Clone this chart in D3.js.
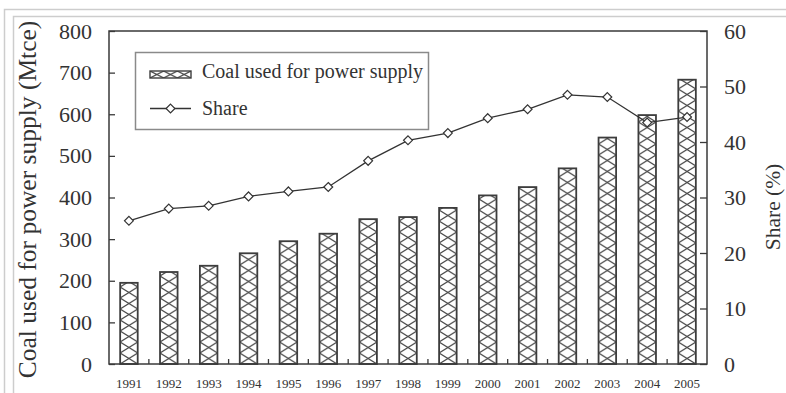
<!DOCTYPE html>
<html>
<head>
<meta charset="utf-8">
<script src="https://cdn.jsdelivr.net/npm/d3@7"></script>
<style>
  html, body { margin: 0; padding: 0; background: #fff; }
  svg { display: block; }
  svg text { font-family: "Liberation Serif", "DejaVu Serif", serif !important; fill: #333; }
</style>
</head>
<body>
<svg id="chart" width="786" height="393"></svg>
<script>
// Coal consumed by power generation in China and its share of total coal use
const years = ["1991","1992","1993","1994","1995","1996","1997","1998",
               "1999","2000","2001","2002","2003","2004","2005"];
const coalMtce = [195, 221, 236, 266, 295, 313, 348, 353, 375, 405, 425, 470, 544, 598, 683];
const sharePct = [25.8, 28.0, 28.5, 30.2, 31.1, 31.9, 36.6, 40.3, 41.6, 44.3, 45.9, 48.5, 48.1, 43.5, 44.5];
const leftTicks = [0, 100, 200, 300, 400, 500, 600, 700, 800];
const rightTicks = [0, 10, 20, 30, 40, 50, 60];
const legendLabels = ["Coal used for power supply", "Share"];
const leftTitle = "Coal used for power supply (Mtce)";
const rightTitle = "Share (%)";

const svg = d3.select("#chart");
const plot = { left: 109, right: 707, top: 31, bottom: 364 };
const ink = "#3a3a3a";
const serif = "'Liberation Serif', 'DejaVu Serif', serif";

// light double frame around the figure
const frame = svg.append("g").attr("fill", "none").attr("stroke", "#cdcdcd").attr("stroke-width", 1.5);
frame.append("path").attr("d", "M4.5,393V9.5H786");
frame.append("path").attr("d", "M13.5,393V16.5H786");

const x = d3.scaleBand().domain(years).range([plot.left, plot.right])
  .paddingInner(0.56).paddingOuter(0.28);
const yL = d3.scaleLinear().domain([0, 800]).range([plot.bottom, plot.top]);
const yR = d3.scaleLinear().domain([0, 60]).range([plot.bottom, plot.top]);

const bw = x.bandwidth();
const cellH = 11;

// cross-hatch patterns: one per bar width, one smaller for the legend key
const defs = svg.append("defs");
function hatch(id, w, h) {
  const p = defs.append("pattern").attr("id", id)
    .attr("patternUnits", "userSpaceOnUse").attr("width", w).attr("height", h);
  p.append("rect").attr("width", w).attr("height", h).attr("fill", "#fff");
  p.append("path").attr("d", `M0,0L${w},${h}M${w},0L0,${h}`)
    .attr("stroke", "#4a4a4a").attr("stroke-width", 1.2).attr("fill", "none");
}
hatch("xhatch", bw, cellH);
hatch("xhatchKey", 41 / 3, 7);

// bars: each bar group is anchored at its own lower-left corner so the hatch lines up
const bars = svg.append("g");
bars.selectAll("g").data(years).join("g")
  .attr("transform", d => `translate(${x(d)},${plot.bottom})`)
  .append("rect")
  .attr("x", 0)
  .attr("y", (d, i) => yL(coalMtce[i]) - plot.bottom)
  .attr("width", bw)
  .attr("height", (d, i) => plot.bottom - yL(coalMtce[i]))
  .attr("fill", "url(#xhatch)")
  .attr("stroke", "#3d3d3d").attr("stroke-width", 1.8);

// plot frame
svg.append("rect")
  .attr("x", plot.left).attr("y", plot.top)
  .attr("width", plot.right - plot.left).attr("height", plot.bottom - plot.top)
  .attr("fill", "none").attr("stroke", ink).attr("stroke-width", 1.5);

function styleTicks(g, size) {
  g.attr("font-family", serif);
  g.select(".domain").remove();
  g.selectAll(".tick line").attr("stroke", ink).attr("stroke-width", 1.3);
  g.selectAll(".tick text").attr("font-size", size).attr("fill", "#3a3a3a");
}

// left axis
svg.append("g").attr("transform", `translate(${plot.left},0)`)
  .call(d3.axisLeft(yL).tickValues(leftTicks).tickSize(-6).tickPadding(17))
  .call(g => styleTicks(g, 22));

// right axis
svg.append("g").attr("transform", `translate(${plot.right},0)`)
  .call(d3.axisRight(yR).tickValues(rightTicks).tickSize(-7).tickPadding(17))
  .call(g => styleTicks(g, 22));

// bottom axis labels
svg.append("g").attr("transform", `translate(0,${plot.bottom})`)
  .call(d3.axisBottom(x).tickSize(0).tickPadding(15))
  .call(g => styleTicks(g, 13));

// small inward ticks between categories
const step = x.step();
const sepTicks = years.slice(1).map(d => x(d) - step * x.paddingInner() / 2);
svg.append("g").selectAll("line").data(sepTicks).join("line")
  .attr("x1", d => d).attr("x2", d => d)
  .attr("y1", plot.bottom).attr("y2", plot.bottom - 5)
  .attr("stroke", ink).attr("stroke-width", 1.3);

// share line with diamond markers
const cx = d => x(d) + bw / 2;
const line = d3.line().x(d => cx(d)).y((d, i) => yR(sharePct[i]));
svg.append("path").datum(years).attr("d", line)
  .attr("fill", "none").attr("stroke", "#333").attr("stroke-width", 1.3);
const diamond = d3.symbol().type(d3.symbolDiamond2).size(50);
svg.append("g").selectAll("path").data(years).join("path")
  .attr("d", diamond)
  .attr("transform", (d, i) => `translate(${cx(d)},${yR(sharePct[i])})`)
  .attr("fill", "#fff").attr("stroke", "#333").attr("stroke-width", 1.2);

// axis titles
svg.append("text")
  .attr("transform", `translate(36,${(plot.top + plot.bottom) / 2 + 2}) rotate(-90)`)
  .attr("text-anchor", "middle").attr("font-size", 25.5).attr("font-family", serif)
  .text(leftTitle);
svg.append("text")
  .attr("transform", `translate(780,207) rotate(-90)`)
  .attr("text-anchor", "middle").attr("font-size", 21.5).attr("font-family", serif)
  .text(rightTitle);

// legend
const lg = svg.append("g").attr("font-family", serif);
lg.append("rect").attr("x", 135.5).attr("y", 52.5).attr("width", 293).attr("height", 77)
  .attr("fill", "#fff").attr("stroke", "#8a8a8a").attr("stroke-width", 1.5);
lg.append("g").attr("transform", "translate(150,71)")
  .append("rect").attr("width", 41).attr("height", 7)
  .attr("fill", "url(#xhatchKey)").attr("stroke", "#3d3d3d").attr("stroke-width", 1.4);
lg.append("text").attr("x", 202).attr("y", 78).attr("font-size", 20).text(legendLabels[0]);
lg.append("line").attr("x1", 150).attr("x2", 191).attr("y1", 108.5).attr("y2", 108.5)
  .attr("stroke", "#333").attr("stroke-width", 1.3);
lg.append("path").attr("d", diamond).attr("transform", "translate(170.5,108.5)")
  .attr("fill", "#fff").attr("stroke", "#333").attr("stroke-width", 1.2);
lg.append("text").attr("x", 202).attr("y", 115).attr("font-size", 20).text(legendLabels[1]);
</script>
</body>
</html>
